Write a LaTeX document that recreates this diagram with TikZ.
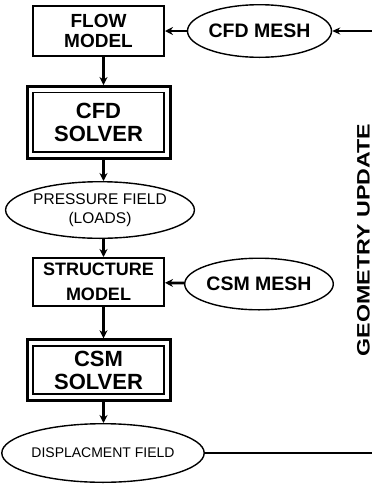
\documentclass[tikz,border=0pt]{standalone}
\usepackage{fontspec}
\setmainfont{Liberation Sans}
\usetikzlibrary{arrows.meta,positioning,fit,shapes.geometric}
\tikzset{
  box/.style={draw=black, line width=1.6pt, align=center, inner sep=0pt, font=\bfseries\fontsize{19}{20}\selectfont},
  solverbox/.style={draw=black, line width=1.6pt, align=center, inner sep=0pt, font=\bfseries\fontsize{22}{23}\selectfont},
  solverframe/.style={draw=black, line width=3pt, inner sep=5.2pt},
  oval/.style={ellipse, draw=black, line width=1.4pt, inner sep=0pt, align=center},
  arrow/.style={-{Stealth[length=8pt,width=8pt]}, line width=2.2pt},
  thinarrow/.style={-{Stealth[length=8pt,width=7pt]}, line width=1.4pt},
  link/.style={line width=1.6pt}
}
\begin{document}
\begin{tikzpicture}[x=1pt, y=1pt]
\useasboundingbox (0,0) rectangle (372,-485);
% left column
\node[box, minimum width=131.4pt, minimum height=50.4pt] (flow) at (98.5,-31) {FLOW\\MODEL};
\node[solverbox, minimum width=131pt, minimum height=59.5pt] (cfd) at (98.5,-122.3) {CFD\\SOLVER};
\node[solverframe, fit=(cfd)] (cfdframe) {};
\node[oval, minimum width=184.6pt, minimum height=56.6pt, font=\fontsize{15.5}{19}\selectfont] (pressure) at (100,-210) {PRESSURE FIELD\\(LOADS)};
\node[box, minimum width=131.4pt, minimum height=48.4pt, font=\bfseries\fontsize{18}{24.5}\selectfont] (structure) at (98.5,-282) {STRUCTURE\\MODEL};
\node[solverbox, minimum width=131pt, minimum height=48.4pt] (csm) at (98.5,-370) {CSM\\SOLVER};
\node[solverframe, fit=(csm)] (csmframe) {};
\node[oval, minimum width=188.6pt, minimum height=58.6pt, font=\fontsize{14}{16}\selectfont] (dispfield) at (103,-453) {DISPLACMENT FIELD};
% meshes
\node[oval, minimum width=113.6pt, minimum height=52.6pt, font=\bfseries\fontsize{19.5}{21}\selectfont] (cfdmesh) at (259.5,-31) {CFD MESH};
\node[oval, minimum width=116.6pt, minimum height=51.6pt, font=\bfseries\fontsize{19.5}{21}\selectfont] (csmmesh) at (259,-284) {CSM MESH};
% feedback
\coordinate (meshin) at (372,-31);
\coordinate (dispout) at (372,-453);
\node[rotate=90, inner sep=0pt, font=\bfseries\fontsize{18}{20}\selectfont] (geomlabel) at (363.5,-240) {\scalebox{1.29}[1]{GEOMETRY UPDATE}};

\draw[arrow] ([xshift=5pt]flow.south) -- ([xshift=5pt]cfdframe.north);
\draw[arrow] ([xshift=5pt]cfdframe.south) -- ([xshift=3.5pt]pressure.north);
\draw[arrow] ([xshift=3.5pt]pressure.south) -- ([xshift=5pt]structure.north);
\draw[arrow] ([xshift=5pt]structure.south) -- ([xshift=5pt]csmframe.north);
\draw[arrow] ([xshift=5pt]csmframe.south) -- ([xshift=0.5pt]dispfield.north);
\draw[arrow, line width=2.8pt] (cfdmesh) -- (flow);
\draw[arrow, line width=2.8pt] (csmmesh) -- (structure);
\draw[thinarrow] (meshin) -- (cfdmesh);
\draw[link] (dispfield) -- (dispout);
\end{tikzpicture}
\end{document}
